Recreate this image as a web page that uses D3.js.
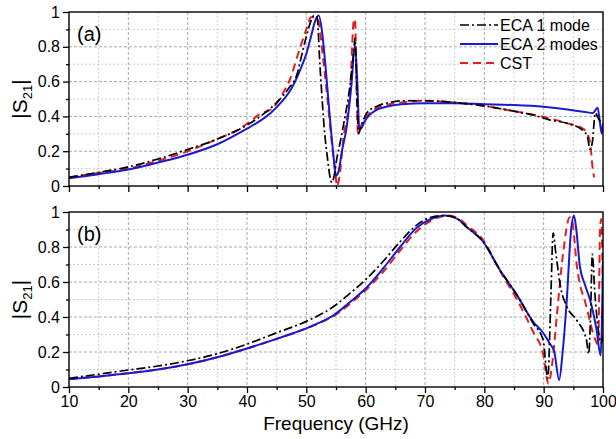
<!DOCTYPE html>
<html><head><meta charset="utf-8">
<script src="https://cdn.jsdelivr.net/npm/d3@7"></script>
<style>body{margin:0;background:#fff}svg{display:block}text{font-family:Arial,"Liberation Sans",sans-serif}</style>
</head><body>
<svg id="c" width="616" height="439"></svg>
<script>
// ---- data ----
const xTicks = [10,20,30,40,50,60,70,80,90,100];
const yTickLabels = ["0","0.2","0.4","0.6","0.8","1"];
const yTicks = [0,0.2,0.4,0.6,0.8,1];
const seriesNames = ["ECA 1 mode","ECA 2 modes","CST"];

// panel (a)
const aEca1F = [10,15,20,25,30,35,40,43,45,47,48.5,49,50,50.8,51.3,51.8,52.3,53.1,53.6,54.0,54.3,54.7,55.1,55.7,56.2,57.4,58.0,58.2,58.5,58.8,59.2,60.2,62,64,66,70,75,80,85,88,91,94,96.6,97.4,97.8,98.2,98.7,99.2,99.6,100];
const aEca1V = [0.05,0.078,0.11,0.155,0.21,0.27,0.35,0.42,0.48,0.56,0.65,0.72,0.86,0.95,0.98,0.97,0.69,0.30,0.15,0.05,0.02,0.06,0.15,0.25,0.34,0.59,0.78,0.85,0.55,0.30,0.34,0.42,0.46,0.48,0.49,0.49,0.48,0.46,0.43,0.41,0.38,0.36,0.32,0.28,0.21,0.25,0.42,0.39,0.37,0.36];
const aEca2F = [10,15,20,25,30,35,40,42,44,46,47.5,49,50,50.8,51.5,52.1,52.6,53.2,53.8,54.5,55.0,55.4,56,56.8,57.6,58.2,58.6,58.9,59.2,59.8,60.7,62,64,66,70,75,80,85,90,94,97,98.3,99.1,99.5,99.8,100];
const aEca2V = [0.045,0.068,0.095,0.135,0.18,0.24,0.33,0.37,0.42,0.49,0.56,0.67,0.76,0.86,0.95,0.98,0.9,0.7,0.46,0.2,0.06,0.08,0.2,0.34,0.58,0.81,0.59,0.34,0.33,0.37,0.41,0.44,0.46,0.47,0.475,0.475,0.47,0.465,0.455,0.44,0.425,0.42,0.45,0.36,0.30,0.36];
const aCstF = [10,15,20,25,30,35,38.8,40.5,42,44.4,46,47.2,48.9,50,50.8,51.5,52,52.8,53.5,54.2,54.8,55.2,55.6,56.2,57.4,58.0,58.2,58.5,58.7,59,59.6,60.7,62,64,66,70,75,80,85,88.2,92,94,96.6,97.5,97.9,98.2,98.5];
const aCstV = [0.05,0.075,0.10,0.145,0.20,0.27,0.33,0.37,0.41,0.45,0.53,0.61,0.79,0.90,0.97,0.97,0.95,0.74,0.52,0.28,0.10,0.0,0.06,0.26,0.56,0.95,0.96,0.50,0.30,0.33,0.37,0.42,0.45,0.47,0.48,0.49,0.48,0.46,0.43,0.41,0.38,0.36,0.33,0.29,0.23,0.12,0.05];

// panel (b)
const bEca1F = [10,15,20,25,30,35,40,45,50,54.6,57,60.2,63,65.8,68.6,71,73.4,75.5,77,79.8,82.6,85.5,88.3,89.9,90.7,91.2,91.6,92,92.8,93.9,95.6,97.2,97.6,97.9,98.2,98.6,99.2,99.7,100];
const bEca1V = [0.05,0.073,0.097,0.12,0.15,0.19,0.245,0.31,0.375,0.46,0.525,0.62,0.72,0.83,0.925,0.97,0.98,0.96,0.915,0.83,0.67,0.525,0.36,0.27,0.05,0.5,0.88,0.78,0.58,0.46,0.38,0.27,0.19,0.4,0.76,0.55,0.33,0.25,0.3];
const bEca2F = [10,15,20,25,30,35,40,45,48,50,52,54.6,57,60.2,63,65.8,68.6,71,73.4,75.5,77,79.8,82.6,85.5,88.3,89.9,91,91.8,92.6,93.2,93.9,94.6,95.1,95.5,96.1,97,97.8,98.9,99.6,100];
const bEca2V = [0.044,0.06,0.078,0.10,0.13,0.17,0.22,0.275,0.31,0.335,0.365,0.41,0.475,0.57,0.68,0.80,0.91,0.96,0.98,0.96,0.915,0.83,0.67,0.525,0.37,0.31,0.25,0.2,0.04,0.2,0.50,0.89,0.98,0.9,0.69,0.58,0.50,0.33,0.18,0.72];
const bCstF = [10,15,20,25,30,35,40,45,48,50,52,54.6,57,60.2,63,65.8,68.6,71,74,76,77,79.8,82.6,85.5,88.3,89.9,90.8,91.5,92.2,93.3,94.4,94.8,95.6,97.2,98.7,99.2,99.5,99.7,100];
const bCstV = [0.045,0.06,0.08,0.10,0.13,0.17,0.22,0.275,0.31,0.335,0.362,0.405,0.465,0.56,0.66,0.78,0.89,0.95,0.98,0.955,0.925,0.84,0.665,0.50,0.31,0.19,0.02,0.15,0.40,0.77,0.97,0.95,0.69,0.46,0.27,0.24,0.9,0.96,0.5];

// ---- drawing ----
const svg = d3.select("#c");
const L = 69, R = 603;
const panels = [
  {top:12, bottom:186, label:"(a)", showX:false, s:[[aEca1F,aEca1V],[aEca2F,aEca2V],[aCstF,aCstV]]},
  {top:212, bottom:387, label:"(b)", showX:true, s:[[bEca1F,bEca1V],[bEca2F,bEca2V],[bCstF,bCstV]]}
];
const styles = [
  {stroke:"#000000", dash:"9,3,2,3", w:1.7},
  {stroke:"#1a1ad0", dash:null, w:2},
  {stroke:"#e02020", dash:"8,5", w:2}
];
const x = d3.scaleLinear().domain([10,100]).range([L,R]);

panels.forEach((p,pi)=>{
  const y = d3.scaleLinear().domain([0,1]).range([p.bottom,p.top]);
  const g = svg.append("g");
  // grid
  const minorX = d3.range(15,100,10), minorY = d3.range(0.1,1,0.2);
  g.selectAll(".gxm").data(minorX).enter().append("line")
    .attr("x1",d=>x(d)).attr("x2",d=>x(d)).attr("y1",p.top).attr("y2",p.bottom)
    .attr("stroke","#c8c8c8").attr("stroke-dasharray","2,2").attr("stroke-width",0.9);
  g.selectAll(".gym").data(minorY).enter().append("line")
    .attr("x1",L).attr("x2",R).attr("y1",d=>y(d)).attr("y2",d=>y(d))
    .attr("stroke","#c8c8c8").attr("stroke-dasharray","2,2").attr("stroke-width",0.9);
  g.selectAll(".gx").data(xTicks.slice(1,-1)).enter().append("line")
    .attr("x1",d=>x(d)).attr("x2",d=>x(d)).attr("y1",p.top).attr("y2",p.bottom)
    .attr("stroke","#a8a8a8").attr("stroke-dasharray","3,2").attr("stroke-width",1);
  g.selectAll(".gy").data(yTicks.slice(1,-1)).enter().append("line")
    .attr("x1",L).attr("x2",R).attr("y1",d=>y(d)).attr("y2",d=>y(d))
    .attr("stroke","#a8a8a8").attr("stroke-dasharray","3,2").attr("stroke-width",1);

  // curves
  const clipId = "clip"+pi;
  svg.append("clipPath").attr("id",clipId).append("rect")
    .attr("x",L).attr("y",p.top-2).attr("width",R-L).attr("height",p.bottom-p.top+3);
  const line = d3.line().x(d=>x(d[0])).y(d=>y(d[1])).curve(d3.curveMonotoneX);
  const order = [2,1,0];
  order.forEach(si=>{
    const [F,V] = p.s[si];
    const pts = F.map((f,i)=>[f,V[i]]);
    const st = styles[si];
    g.append("path").attr("d",line(pts)).attr("fill","none")
      .attr("stroke",st.stroke).attr("stroke-width",st.w)
      .attr("stroke-dasharray",st.dash).attr("clip-path","url(#"+clipId+")");
  });

  // axes
  const xAxis = d3.axisBottom(x).tickValues(xTicks).tickSize(6).tickPadding(3)
    .tickFormat(p.showX ? d3.format("d") : ()=>"");
  const ax = g.append("g").attr("transform",`translate(0,${p.bottom})`).call(xAxis);
  const axm = g.append("g").attr("transform",`translate(0,${p.bottom})`)
    .call(d3.axisBottom(x).tickValues(minorX).tickSize(3).tickFormat(()=>""));
  const yAxis = d3.axisLeft(y).tickValues(yTicks).tickSize(6).tickPadding(3)
    .tickFormat((d,i)=>yTickLabels[i]);
  const ay = g.append("g").attr("transform",`translate(${L},0)`).call(yAxis);
  const aym = g.append("g").attr("transform",`translate(${L},0)`)
    .call(d3.axisLeft(y).tickValues(minorY).tickSize(3).tickFormat(()=>""));
  [ax,axm,ay,aym].forEach(a=>{
    a.select(".domain").remove();
    a.selectAll("line").attr("stroke","#000").attr("stroke-width",1.3);
    a.selectAll("text").attr("fill","#000").style("font-size","16px")
      .style("font-family","Arial, 'Liberation Sans', sans-serif");
  });
  // frame
  g.append("rect").attr("x",L).attr("y",p.top).attr("width",R-L).attr("height",p.bottom-p.top)
    .attr("fill","none").attr("stroke","#000").attr("stroke-width",1.4);

  // panel label
  g.append("text").attr("x",77).attr("y",p.top+29).text(p.label)
    .style("font-size","20px").attr("fill","#000");
  // y label
  const yl = g.append("text").attr("transform",`translate(27,${(p.top+p.bottom)/2}) rotate(-90)`)
    .attr("text-anchor","middle").style("font-size","21px").attr("fill","#000");
  yl.append("tspan").text("|S");
  yl.append("tspan").text("21").style("font-size","13px").attr("dy",5);
  yl.append("tspan").text("|").attr("dy",-5);
});

// x label
svg.append("text").attr("x",336).attr("y",430).attr("text-anchor","middle")
  .style("font-size","19px").text("Frequency (GHz)");

// legend
const legY = [25,44,63];
seriesNames.forEach((n,i)=>{
  const st = styles[i];
  svg.append("line").attr("x1",460).attr("x2",498).attr("y1",legY[i]).attr("y2",legY[i])
    .attr("stroke",st.stroke).attr("stroke-width",st.w).attr("stroke-dasharray",st.dash);
  svg.append("text").attr("x",500).attr("y",legY[i]+6).text(n).style("font-size","16px").attr("fill","#000");
});
</script>
</body></html>
